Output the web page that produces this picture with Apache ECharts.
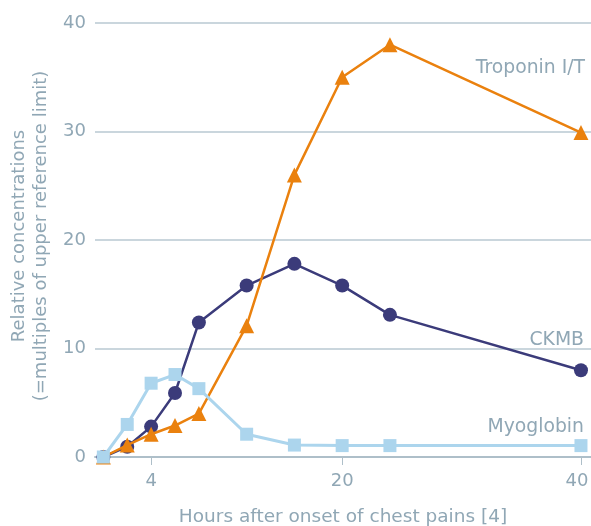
<!DOCTYPE html>
<html>
<head>
<meta charset="utf-8">
<script src="https://cdn.jsdelivr.net/npm/echarts@6/dist/echarts.min.js"></script>
<style>html,body{margin:0;padding:0;background:#fff}#c{width:591px;height:526px}</style>
</head>
<body>
<div id="c"></div>
<script>
var hours = [0, 2, 4, 6, 8, 12, 16, 20, 24, 40];
var troponin = [0, 1.1, 2.1, 2.9, 4.0, 12.1, 26.0, 35.0, 38.0, 29.9];
var ckmb = [0, 0.95, 2.8, 5.9, 12.4, 15.8, 17.8, 15.8, 13.1, 8.0];
var myoglobin = [0, 3.0, 6.8, 7.6, 6.3, 2.1, 1.1, 1.05, 1.05, 1.05];
var xTicks = [4, 20, 40];
var seriesNames = ['Troponin I/T', 'CKMB', 'Myoglobin'];

var TXT = '#90a7b5';
var FONT = 'DejaVu Sans';

function build(vals, name, offset) {
  return vals.map(function (v, i) {
    var item = { value: [hours[i], v] };
    if (i === vals.length - 1) {
      item.label = {
        show: true, formatter: name, position: 'inside', align: 'right',
        verticalAlign: 'middle', offset: offset, color: TXT,
        fontFamily: FONT, fontSize: 18.8
      };
    }
    return item;
  });
}

var chart = echarts.init(document.getElementById('c'), null, { renderer: 'canvas' });
chart.setOption({
  animation: false,
  grid: { left: 95, right: 0, top: 23, bottom: 69, containLabel: false, outerBoundsMode: 'none' },
  xAxis: {
    type: 'value', min: -0.7, max: 40.84,
    name: 'Hours after onset of chest pains [4]',
    nameLocation: 'middle', nameGap: 51,
    nameTextStyle: { color: TXT, fontFamily: FONT, fontSize: 18.5 },
    axisLine: { show: true, lineStyle: { color: '#aebfc9', width: 2 } },
    axisTick: { show: true, customValues: xTicks, length: 8, lineStyle: { color: '#aebfc9', width: 1 } },
    axisLabel: {
      customValues: xTicks, margin: 15, color: TXT, fontFamily: FONT, fontSize: 18,
      formatter: function (v) { return v === xTicks[xTicks.length - 1] ? '{m|' + v + '}' : String(v); },
      rich: { m: { color: TXT, fontFamily: FONT, fontSize: 18, padding: [0, 8, 0, 0] } }
    },
    splitLine: { show: false }
  },
  yAxis: {
    type: 'value', min: 0, max: 40, interval: 10,
    name: 'Relative concentrations\n(=multiples of upper reference limit)',
    nameLocation: 'middle', nameGap: 41,
    nameTextStyle: { color: TXT, fontFamily: FONT, fontSize: 18, lineHeight: 22, padding: [0, 0, 0, 8] },
    axisLine: { show: false },
    axisTick: { show: false },
    axisLabel: { margin: 9, color: TXT, fontFamily: FONT, fontSize: 18 },
    splitLine: { show: true, lineStyle: { color: '#b9c9d2', width: 1.5 } }
  },
  series: [
    {
      name: seriesNames[1], type: 'line', data: build(ckmb, seriesNames[1], [3, -30]),
      symbol: 'circle', symbolSize: 14,
      lineStyle: { color: '#3b3b7a', width: 2.5 }, itemStyle: { color: '#3b3b7a' }, z: 2
    },
    {
      name: seriesNames[0], type: 'line', data: build(troponin, seriesNames[0], [4, -64]),
      symbol: 'triangle', symbolSize: 15,
      lineStyle: { color: '#ea810e', width: 2.5 }, itemStyle: { color: '#ea810e' }, z: 3
    },
    {
      name: seriesNames[2], type: 'line', data: build(myoglobin, seriesNames[2], [3, -18]),
      symbol: 'rect', symbolSize: 13,
      lineStyle: { color: '#acd5ed', width: 3 }, itemStyle: { color: '#acd5ed' }, z: 4
    }
  ]
});
</script>
</body>
</html>
